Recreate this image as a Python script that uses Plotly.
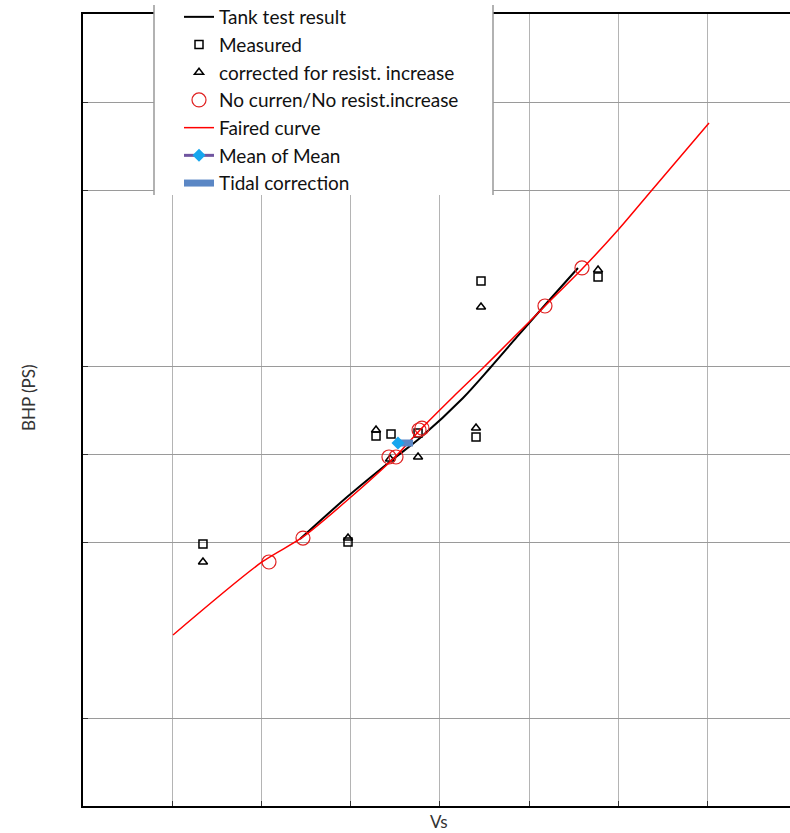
import plotly.graph_objects as go

# ---- data (chart units, axes have no tick labels) ----
tank_x = [2.433, 2.960, 3.464, 3.778, 4.260, 4.563, 4.865, 5.179, 5.549]
tank_y = [3.034, 3.511, 3.932, 4.182, 4.636, 4.977, 5.330, 5.693, 6.114]

meas_x = [1.345, 2.971, 3.285, 3.453, 3.756, 4.406, 4.462, 5.774]
meas_y = [2.977, 3.000, 4.205, 4.227, 4.239, 4.193, 5.966, 6.011]

corr_x = [1.345, 2.971, 3.285, 3.442, 3.756, 4.406, 4.462, 5.774]
corr_y = [2.773, 3.045, 4.273, 3.943, 3.966, 4.295, 5.670, 6.091]

nocur_x = [2.085, 2.466, 3.430, 3.509, 3.767, 3.800, 5.179, 5.594]
nocur_y = [2.773, 3.045, 3.966, 3.966, 4.273, 4.295, 5.682, 6.114]

faired_x = [1.009, 2.007, 2.466, 3.004, 3.498, 3.778, 4.148, 4.484, 4.821, 5.179, 5.605, 5.998, 6.379, 7.018]
faired_y = [1.943, 2.773, 3.057, 3.511, 3.966, 4.273, 4.648, 4.977, 5.318, 5.682, 6.114, 6.545, 7.000, 7.761]

mean_x = [3.531]
mean_y = [4.125]

tidal_x = [3.531, 3.700]
tidal_y = [4.125, 4.125]

x_grid = [1, 2, 3, 4, 5, 6, 7]
y_grid = [1, 3, 4, 5, 7, 8]

FONT = "Lato, Arial, sans-serif"

fig = go.Figure()
fig.add_trace(go.Scatter(x=tank_x, y=tank_y, mode="lines", name="Tank test result",
                         line=dict(color="black", width=2, shape="spline", smoothing=0.8),
                         legendgroup="a"))
fig.add_trace(go.Scatter(x=meas_x, y=meas_y, mode="markers", name="Measured",
                         marker=dict(symbol="square-open", size=8, color="black",
                                     line=dict(width=1.5)), legendgroup="b"))
fig.add_trace(go.Scatter(x=corr_x, y=corr_y, mode="markers", name="corrected for resist. increase",
                         marker=dict(symbol="triangle-up-open", size=8, color="black",
                                     line=dict(width=1.5)), legendgroup="c"))
fig.add_trace(go.Scatter(x=nocur_x, y=nocur_y, mode="markers", name="No curren/No resist.increase",
                         marker=dict(symbol="circle-open", size=14, color="#e02020",
                                     line=dict(width=1.2)), legendgroup="d"))
fig.add_trace(go.Scatter(x=faired_x, y=faired_y, mode="lines", name="Faired curve",
                         line=dict(color="#ff0000", width=1.5, shape="spline", smoothing=0.8),
                         legendgroup="e"))
fig.add_trace(go.Scatter(x=tidal_x, y=tidal_y, mode="lines", name="Tidal correction",
                         line=dict(color="#5b87c5", width=7), legendgroup="g", legendrank=1007))
fig.add_trace(go.Scatter(x=mean_x, y=mean_y, mode="lines+markers", name="Mean of Mean",
                         line=dict(color="#7055a0", width=3),
                         marker=dict(symbol="diamond", size=10, color="#17a6ee"),
                         legendgroup="f", legendrank=1006))

# target coordinates are page pixels (body margin removed below)
PL, PT, PB = 83, 14, 806
FIG_W, FIG_H = 790, 833
PLOT_W = FIG_W - PL
PLOT_H = PB - PT
X_MAX = PLOT_W / 89.2


def px_x(p):
    return (p - PL) / PLOT_W


def px_y(p):
    return (PB - p) / PLOT_H


fig.update_layout(
    width=FIG_W, height=FIG_H,
    margin=dict(l=PL, r=0, t=PT, b=FIG_H - PB, autoexpand=False),
    paper_bgcolor="white", plot_bgcolor="white",
    font=dict(family=FONT, color="black"),
    showlegend=True,
    legend=dict(x=px_x(179), y=px_y(-2), xanchor="left", yanchor="top",
                bgcolor="rgba(0,0,0,0)", borderwidth=0,
                font=dict(size=19, family=FONT, color="#111"),
                traceorder="grouped", tracegroupgap=0, itemwidth=30),
    xaxis=dict(range=[0, X_MAX], tickvals=x_grid, showticklabels=False,
               showgrid=True, gridcolor="#b4b4b4", gridwidth=1,
               showline=True, linecolor="black", linewidth=2, mirror=True,
               ticks="inside", ticklen=5, tickcolor="#333", zeroline=False),
    yaxis=dict(range=[0, 9], tickvals=y_grid, showticklabels=False,
               showgrid=True, gridcolor="#9a9a9a", gridwidth=1,
               showline=True, linecolor="black", linewidth=2,
               ticks="inside", ticklen=5, tickcolor="#333", zeroline=False),
    shapes=[
        dict(type="rect", xref="paper", yref="paper", layer="above",
             x0=px_x(154), x1=px_x(493), y0=px_y(195), y1=px_y(0),
             fillcolor="white", line=dict(width=0)),
        dict(type="line", xref="paper", yref="paper", layer="above",
             x0=px_x(154), x1=px_x(154), y0=px_y(195), y1=px_y(5),
             line=dict(color="#999", width=1.5)),
        dict(type="line", xref="paper", yref="paper", layer="above",
             x0=px_x(493), x1=px_x(493), y0=px_y(195), y1=px_y(5),
             line=dict(color="#999", width=1.5)),
    ],
    annotations=[
        dict(text="BHP (PS)", xref="paper", yref="paper", x=px_x(28), y=px_y(398),
             xanchor="center", yanchor="middle",
             textangle=-90, showarrow=False, font=dict(size=17, family=FONT, color="#333")),
        dict(text="Vs", xref="paper", yref="paper", x=px_x(439), y=px_y(822),
             xanchor="center", yanchor="middle",
             showarrow=False, font=dict(size=17, family=FONT, color="#333")),
    ],
)

fig.write_html("out.html",
               config={"displayModeBar": False},
               post_script="document.body.style.margin='0';document.body.style.overflow='hidden';")
